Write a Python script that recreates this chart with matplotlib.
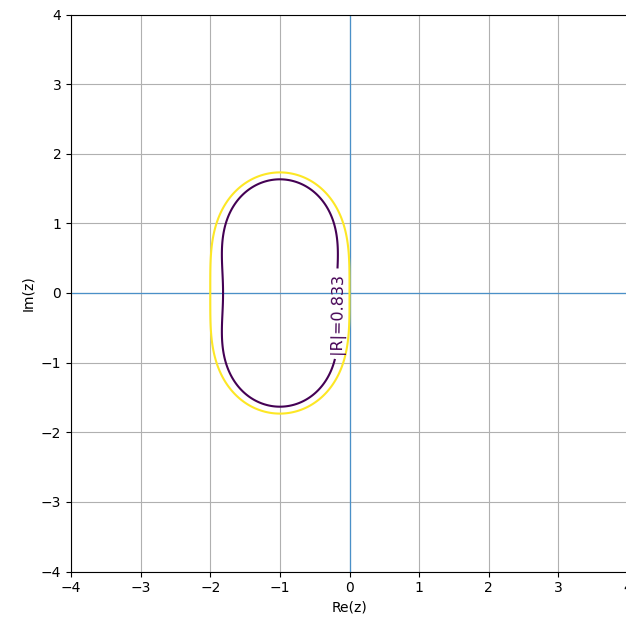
import numpy as np
import matplotlib
matplotlib.use("Agg")
import matplotlib.pyplot as plt

# Stability polynomial coefficients R(z) = 1 + z + z^2/2
coeffs = [1.0, 1.0, 0.5]
levels = [0.833, 1.0]
x_range = [-4, 4]
y_range = [-4, 4]
ticks = [-4, -3, -2, -1, 0, 1, 2, 3, 4]

x = np.linspace(x_range[0], x_range[1], 801)
y = np.linspace(y_range[0], y_range[1], 801)
X, Y = np.meshgrid(x, y)
Z = X + 1j * Y
R = sum(c * Z**k for k, c in enumerate(coeffs))
A = np.abs(R)

fig = plt.figure(figsize=(6.26, 6.25), dpi=100)
ax = fig.add_axes([71/626, 53/625, 557/626, 558/625])
ax.set_axisbelow(True)
cs = ax.contour(X, Y, A, levels=levels, cmap='viridis', zorder=3)
ax.clabel(cs, levels=[levels[0]], fmt='|R|=%.3f', manual=[(-0.2, -0.3)], fontsize=11.5)
ax.axhline(0, color='#4a90c8', linewidth=0.9, zorder=2.5)
ax.axvline(0, color='#4a90c8', linewidth=0.9, zorder=2.5)
ax.grid(True, zorder=0)
ax.set_xlim(x_range)
ax.set_ylim(y_range)
ax.set_xticks(ticks)
ax.set_yticks(ticks)
ax.set_aspect('equal')
ax.set_xlabel('Re(z)')
ax.set_ylabel('Im(z)')
fig.savefig('out.png', dpi=100)
